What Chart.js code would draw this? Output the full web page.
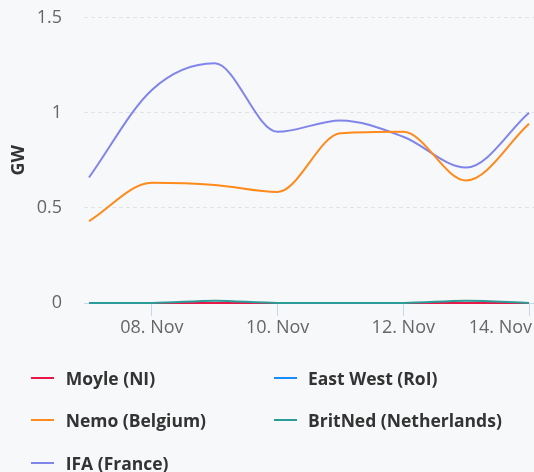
<!DOCTYPE html>
<html>
<head>
<meta charset="utf-8">
<script src="https://cdn.jsdelivr.net/npm/chart.js@4/dist/chart.umd.min.js"></script>
<style>
  html, body { margin: 0; padding: 0; background: #f7f8fa; }
  #wrap { position: relative; width: 534px; height: 472px; background: #f7f8fa; overflow: hidden; }
  #c { position: absolute; left: 0; top: 0; }
  .lg { position: absolute; font-family: "Open Sans", "Noto Sans", sans-serif; font-weight: 700; font-size: 17.5px; color: #333; white-space: nowrap; line-height: 24px; height: 24px; }
  .sym { position: absolute; width: 23px; height: 2px; }
</style>
</head>
<body>
<div id="wrap">
  <canvas id="c" width="534" height="472"></canvas>
</div>
<script>
// ---- data ----
const days = [7, 8, 9, 10, 11, 12, 13, 14];           // November days
const seriesNames = ["Moyle (NI)", "East West (RoI)", "Nemo (Belgium)", "BritNed (Netherlands)", "IFA (France)"];
const seriesColors = ["#e8174a", "#1a8cff", "#ff8a1c", "#2a9d97", "#8085e9"];
const moyle   = [0, 0, 0, 0, 0, 0, 0, 0];
const eastWest = [0, 0, 0, 0, 0, 0, 0, 0];
const nemo    = [0.43, 0.632, 0.621, 0.584, 0.892, 0.90, 0.644, 0.942];
const britNed = [0, 0, 0.012, 0, 0, 0, 0.012, 0];
const ifa     = [0.66, 1.12, 1.26, 0.90, 0.96, 0.874, 0.712, 1.0];
const yTicks = [0, 0.5, 1, 1.5];
const xTickDays = [8, 10, 12, 14];
const monthLabel = "Nov";
const yTitle = "GW";

const seriesValues = [moyle, eastWest, nemo, britNed, ifa];
const drawOrder = [2, 2, 1, 0, 1];

const FONT = '"Open Sans", "Noto Sans", sans-serif';

function pts(vals) { return vals.map((v, i) => ({ x: days[i], y: v })); }
function dayLabel(d) { return (d < 10 ? "0" + d : "" + d) + ". " + monthLabel; }

const datasets = seriesNames.map((name, i) => ({
  label: name,
  data: pts(seriesValues[i]),
  borderColor: seriesColors[i],
  backgroundColor: seriesColors[i],
  borderWidth: 2,
  pointRadius: 0,
  fill: false,
  cubicInterpolationMode: "monotone",
  order: drawOrder[i],
  clip: 4
}));

const xLabelPlugin = {
  id: "xLabels",
  afterDraw(chart) {
    const sc = chart.scales.x;
    const ctx = chart.ctx;
    ctx.save();
    ctx.font = "18px " + FONT;
    ctx.fillStyle = "#666666";
    ctx.textBaseline = "alphabetic";
    ctx.textAlign = "left";
    xTickDays.forEach(d => {
      const t = dayLabel(d);
      const px = sc.getPixelForValue(d);
      const w = ctx.measureText(t).width;
      let left = px - w / 2;
      if (left + w > chart.width - 2) left = chart.width - 2 - w;
      ctx.fillText(t, left, 333);
    });
    ctx.restore();
  }
};

const padDays = 5 / 62.86;

new Chart(document.getElementById("c"), {
  type: "line",
  data: { datasets },
  plugins: [xLabelPlugin],
  options: {
    responsive: false,
    animation: false,
    events: [],
    layout: { padding: { top: 17.7, left: 0, right: 0, bottom: 0 } },
    plugins: { legend: { display: false }, tooltip: { enabled: false } },
    scales: {
      x: {
        type: "linear",
        min: days[0] - padDays,
        max: days[days.length - 1] + padDays,
        afterBuildTicks(scale) { scale.ticks = xTickDays.map(v => ({ value: v })); },
        ticks: { display: false, includeBounds: false },
        grid: { drawOnChartArea: false, drawTicks: true, tickLength: 13, color: "#ccd6eb", lineWidth: 1 },
        border: { display: true, color: "#ccd6eb", width: 1 },
        afterFit(scale) { scale.height = 472 - 303; scale.paddingLeft = 0; scale.paddingRight = 0; }
      },
      y: {
        type: "linear",
        min: 0,
        max: 1.5,
        afterBuildTicks(scale) { scale.ticks = yTicks.map(v => ({ value: v })); },
        ticks: {
          padding: 22,
          color: "#666666",
          font: { family: FONT, size: 18 },
          callback: v => String(v)
        },
        grid: {
          drawTicks: false,
          color: ctx => (ctx.tick && ctx.tick.value === 0) ? "rgba(0,0,0,0)" : "#e1e3e6",
          lineWidth: 1
        },
        border: { display: false, dash: [4, 3] },
        title: {
          display: true,
          text: yTitle,
          color: "#333333",
          font: { family: FONT, size: 18, weight: "bold" },
          padding: { top: 8, bottom: 0 }
        },
        afterFit(scale) { scale.width = 84; scale.paddingTop = 0; scale.paddingBottom = 0; }
      }
    }
  }
});

// ---- HTML legend built from the series arrays ----
const wrap = document.getElementById("wrap");
const colSym = [31, 274], colText = [65.7, 308];
const rowY = [378, 420, 463];
seriesNames.forEach((name, i) => {
  const col = i % 2, row = Math.floor(i / 2);
  const s = document.createElement("div");
  s.className = "sym";
  s.style.left = colSym[col] + "px";
  s.style.top = (rowY[row] - 1) + "px";
  s.style.background = seriesColors[i];
  wrap.appendChild(s);
  const t = document.createElement("div");
  t.className = "lg";
  t.style.left = colText[col] + "px";
  t.style.top = (rowY[row] - 12) + "px";
  t.textContent = name;
  wrap.appendChild(t);
});
</script>
</body>
</html>
